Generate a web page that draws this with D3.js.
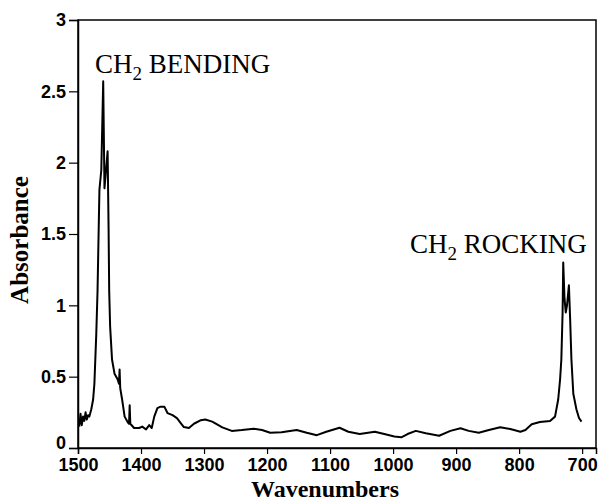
<!DOCTYPE html>
<html>
<head>
<meta charset="utf-8">
<script src="https://cdn.jsdelivr.net/npm/d3@7"></script>
<style>
  body { margin: 0; background: #fff; }
  svg { display: block; }
</style>
</head>
<body>
<div id="chart"></div>
<script>
// IR spectrum: absorbance vs wavenumber
const wavenumbers = [
  1498, 1496, 1494, 1492, 1490, 1488, 1486, 1484, 1482, 1479, 1476, 1474, 1471, 1469, 1466,
  1463, 1460, 1458, 1455.5, 1453, 1451.5, 1450.5, 1449, 1446, 1442, 1437, 1435, 1434, 1433,
  1430, 1426, 1421, 1419, 1418, 1417, 1411, 1403, 1398, 1392, 1387, 1383, 1379, 1374, 1369,
  1363, 1358, 1350, 1343, 1337, 1332, 1324, 1316, 1305, 1298, 1287, 1271, 1256, 1240, 1221,
  1208, 1195, 1177, 1153, 1137, 1121, 1106, 1085, 1071, 1053, 1029, 1014, 998, 987, 977, 964,
  948, 927, 909, 893, 880, 864, 848, 830, 814, 798, 790, 780, 767, 751, 743, 738, 735, 733,
  731, 730, 728, 726, 724, 721, 719, 717, 714, 709, 705, 701
];
const absorbance = [
  0.15, 0.24, 0.16, 0.22, 0.19, 0.25, 0.2, 0.23, 0.22, 0.27, 0.34, 0.45, 0.8, 1.1, 1.81,
  1.95, 2.57, 1.82, 1.95, 2.08, 1.55, 1.1, 0.85, 0.62, 0.52, 0.48, 0.45, 0.55, 0.42,
  0.34, 0.22, 0.18, 0.17, 0.3, 0.17, 0.14, 0.14, 0.15, 0.13, 0.16, 0.14, 0.22, 0.28, 0.29,
  0.29, 0.245, 0.23, 0.21, 0.175, 0.147, 0.14, 0.17, 0.195, 0.2, 0.185, 0.145, 0.12, 0.126, 0.135,
  0.126, 0.107, 0.11, 0.126, 0.107, 0.09, 0.114, 0.142, 0.114, 0.098, 0.114, 0.098, 0.08, 0.075, 0.098, 0.12,
  0.103, 0.086, 0.12, 0.138, 0.12, 0.107, 0.126, 0.145, 0.133, 0.114, 0.126, 0.166, 0.182, 0.19, 0.22, 0.34, 0.48, 0.62,
  0.95, 1.3, 1.05, 0.95, 1.0, 1.14, 0.9, 0.62, 0.38, 0.27, 0.21, 0.185
];
const xTicks = [1500, 1400, 1300, 1200, 1100, 1000, 900, 800, 700];
const yTicks = [0, 0.5, 1, 1.5, 2, 2.5, 3];
const yTickLabels = ['0', '0.5', '1', '1.5', '2', '2.5', '3'];

const width = 598, height = 504;
const plotLeft = 78, plotRight = 596, plotTop = 20, plotBottom = 448;

const svg = d3.select('#chart').append('svg')
  .attr('width', width)
  .attr('height', height);

const x = d3.scaleLinear().domain([1500, 678]).range([plotLeft, plotRight]);
const y = d3.scaleLinear().domain([0, 3]).range([plotBottom, plotTop]);

const tickFont = '"Liberation Sans", Arial, sans-serif';
const serif = '"Liberation Serif", "Times New Roman", serif';

// box (top + right sides)
svg.append('rect')
  .attr('x', plotLeft).attr('y', plotTop)
  .attr('width', plotRight - plotLeft).attr('height', plotBottom - plotTop)
  .attr('fill', 'none').attr('stroke', '#000').attr('stroke-width', 1.5);

// x axis
const xAxis = svg.append('g')
  .attr('transform', `translate(0,${plotBottom})`)
  .call(d3.axisBottom(x).tickValues(xTicks).tickSize(6).tickPadding(4).tickFormat(d3.format('d')));
xAxis.select('.domain').attr('stroke-width', 1.5);
xAxis.selectAll('line').attr('stroke-width', 1.2);
xAxis.selectAll('text')
  .attr('font-family', tickFont).attr('font-weight', 'bold').attr('font-size', 18).attr('fill', '#000');

// y axis
const yAxis = svg.append('g')
  .attr('transform', `translate(${plotLeft},0)`)
  .call(d3.axisLeft(y).tickValues(yTicks).tickSize(9).tickPadding(3)
    .tickFormat((d, i) => yTickLabels[i]));
yAxis.select('.domain').attr('stroke-width', 1.5);
yAxis.selectAll('line').attr('stroke-width', 1.2);
yAxis.selectAll('text')
  .attr('font-family', tickFont).attr('font-weight', 'bold').attr('font-size', 18).attr('fill', '#000');
// lift the "0" a little so it clears the 1500 label
yAxis.selectAll('.tick').filter(d => d === 0).select('text').attr('dy', '0em');

// spectrum
const pts = wavenumbers.map((w, i) => [w, absorbance[i]]);
svg.append('path')
  .datum(pts)
  .attr('fill', 'none')
  .attr('stroke', '#000')
  .attr('stroke-width', 2)
  .attr('stroke-linejoin', 'round')
  .attr('d', d3.line().x(d => x(d[0])).y(d => y(d[1])));

// axis titles
svg.append('text')
  .attr('x', 325).attr('y', 497)
  .attr('text-anchor', 'middle')
  .attr('font-family', serif).attr('font-weight', 'bold').attr('font-size', 24)
  .text('Wavenumbers');

svg.append('text')
  .attr('transform', 'translate(28,240) rotate(-90)')
  .attr('text-anchor', 'middle')
  .attr('font-family', serif).attr('font-weight', 'bold').attr('font-size', 25)
  .text('Absorbance');

// peak annotations
function peakLabel(px, py, word) {
  const t = svg.append('text')
    .attr('x', px).attr('y', py)
    .attr('font-family', serif).attr('font-size', 27);
  t.append('tspan').text('CH');
  t.append('tspan').attr('font-size', 19).attr('dy', 7).text('2');
  t.append('tspan').attr('dy', -7).text(' ' + word);
}
peakLabel(95, 73, 'BENDING');
peakLabel(410, 253, 'ROCKING');
</script>
</body>
</html>
